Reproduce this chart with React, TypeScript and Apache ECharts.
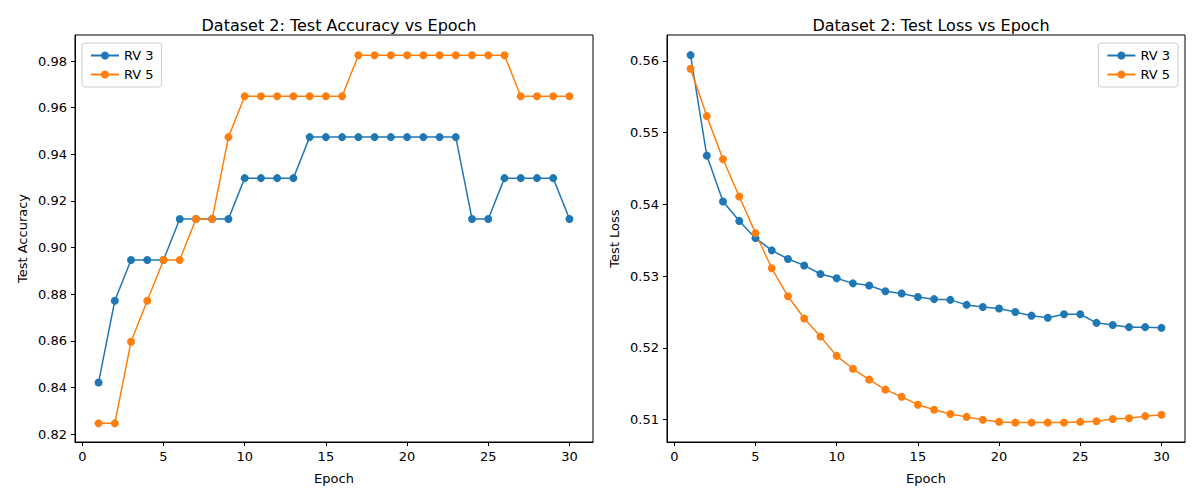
import { useEffect, useRef } from 'react';
import * as echarts from 'echarts';

const epochs = Array.from({ length: 30 }, (_, i) => i + 1);

const accRv3 = [
  0.8421, 0.8772, 0.8947, 0.8947, 0.8947, 0.9123, 0.9123, 0.9123, 0.9123, 0.9298,
  0.9298, 0.9298, 0.9298, 0.9474, 0.9474, 0.9474, 0.9474, 0.9474, 0.9474, 0.9474,
  0.9474, 0.9474, 0.9474, 0.9123, 0.9123, 0.9298, 0.9298, 0.9298, 0.9298, 0.9123,
];
const accRv5 = [
  0.8246, 0.8246, 0.8596, 0.8772, 0.8947, 0.8947, 0.9123, 0.9123, 0.9474, 0.9649,
  0.9649, 0.9649, 0.9649, 0.9649, 0.9649, 0.9649, 0.9825, 0.9825, 0.9825, 0.9825,
  0.9825, 0.9825, 0.9825, 0.9825, 0.9825, 0.9825, 0.9649, 0.9649, 0.9649, 0.9649,
];
const lossRv3 = [
  0.5608, 0.5468, 0.5404, 0.5377, 0.5353, 0.5336, 0.5324, 0.5315, 0.5303, 0.5297,
  0.529, 0.5287, 0.5279, 0.5276, 0.5271, 0.5268, 0.5267, 0.526, 0.5257, 0.5255,
  0.525, 0.5245, 0.5242, 0.5247, 0.5247, 0.5235, 0.5232, 0.5229, 0.5229, 0.5228,
];
const lossRv5 = [
  0.5589, 0.5523, 0.5463, 0.5411, 0.536, 0.5311, 0.5272, 0.5241, 0.5216, 0.5189,
  0.5171, 0.5156, 0.5142, 0.5132, 0.5121, 0.5114, 0.5108, 0.5104, 0.51, 0.5097,
  0.5096, 0.5096, 0.5096, 0.5096, 0.5097, 0.5098, 0.5101, 0.5102, 0.5105, 0.5107,
];

const xTicks = [0, 5, 10, 15, 20, 25, 30];
const accTicks = [0.82, 0.84, 0.86, 0.88, 0.9, 0.92, 0.94, 0.96, 0.98];
const lossTicks = [0.51, 0.52, 0.53, 0.54, 0.55, 0.56];

const BLUE = '#1f77b4';
const ORANGE = '#ff7f0e';
const FONT = 'DejaVu Sans';

const xAxis = (gridIndex: number) => ({
  type: 'value' as const,
  gridIndex,
  min: -0.45,
  max: 31.45,
  name: 'Epoch',
  nameLocation: 'middle' as const,
  nameGap: 30,
  nameTextStyle: { color: '#000', fontSize: 13, fontFamily: FONT },
  axisLine: { show: true, onZero: false, lineStyle: { color: '#000' } },
  axisTick: { show: true, length: 4, lineStyle: { color: '#000' }, customValues: xTicks },
  axisLabel: { color: '#000', fontSize: 13, fontFamily: FONT, customValues: xTicks },
  splitLine: { show: false },
});

const yAxis = (gridIndex: number, min: number, max: number, ticks: number[], name: string, gap: number) => ({
  type: 'value' as const,
  gridIndex,
  min,
  max,
  name,
  nameLocation: 'middle' as const,
  nameGap: gap,
  nameTextStyle: { color: '#000', fontSize: 13, fontFamily: FONT },
  axisLine: { show: true, onZero: false, lineStyle: { color: '#000' } },
  axisTick: { show: true, length: 4, lineStyle: { color: '#000' }, customValues: ticks },
  axisLabel: { color: '#000', fontSize: 13, fontFamily: FONT, customValues: ticks, formatter: (v: number) => v.toFixed(2) },
  splitLine: { show: false },
});

const line = (name: string, color: string, values: number[], idx: number) => ({
  type: 'line' as const,
  name,
  xAxisIndex: idx,
  yAxisIndex: idx,
  data: epochs.map((e, i) => [e, values[i]]),
  symbol: 'circle',
  symbolSize: 8,
  lineStyle: { color, width: 1.5 },
  itemStyle: { color },
});

export default function App() {
  const chartRef = useRef<HTMLDivElement>(null);

  useEffect(() => {
    if (!chartRef.current) return;
    document.body.style.margin = '0';
    const chart = echarts.init(chartRef.current, undefined, { renderer: 'svg' });

    const legendBase = {
      orient: 'vertical' as const,
      top: 43,
      itemWidth: 28,
      itemHeight: 10,
      itemGap: 6,
      padding: [6, 8],
      borderColor: '#ccc',
      borderWidth: 1,
      borderRadius: 3,
      backgroundColor: '#fff',
      textStyle: { color: '#000', fontSize: 13, fontFamily: FONT },
    };
    const titleStyle = { fontSize: 16, fontWeight: 'normal' as const, fontFamily: FONT, color: '#000' };

    chart.setOption({
      animation: false,
      backgroundColor: '#fff',
      title: [
        { text: 'Dataset 2: Test Accuracy vs Epoch', left: 334, top: 12, textAlign: 'center', textStyle: titleStyle },
        { text: 'Dataset 2: Test Loss vs Epoch', left: 926, top: 12, textAlign: 'center', textStyle: titleStyle },
      ],
      legend: [
        { ...legendBase, left: 82, data: ['RV 3', 'RV 5'].map((n) => ({ name: n })), selectedMode: false },
        { ...legendBase, right: 22, data: ['RV 3 ', 'RV 5 '].map((n) => ({ name: n })), selectedMode: false,
          formatter: (n: string) => n.trim() },
      ],
      grid: [
        { left: 75, top: 35, width: 518, height: 407, show: true, borderColor: '#000', borderWidth: 1 },
        { left: 667, top: 35, width: 518, height: 407, show: true, borderColor: '#000', borderWidth: 1 },
      ],
      xAxis: [xAxis(0), xAxis(1)],
      yAxis: [
        yAxis(0, 0.8166, 0.9912, accTicks, 'Test Accuracy', 46),
        yAxis(1, 0.5069, 0.5636, lossTicks, 'Test Loss', 46),
      ],
      series: [
        line('RV 3', BLUE, accRv3, 0),
        line('RV 5', ORANGE, accRv5, 0),
        line('RV 3 ', BLUE, lossRv3, 1),
        line('RV 5 ', ORANGE, lossRv5, 1),
      ],
    });

    return () => chart.dispose();
  }, []);

  return <div ref={chartRef} style={{ width: 1200, height: 500 }} />;
}
